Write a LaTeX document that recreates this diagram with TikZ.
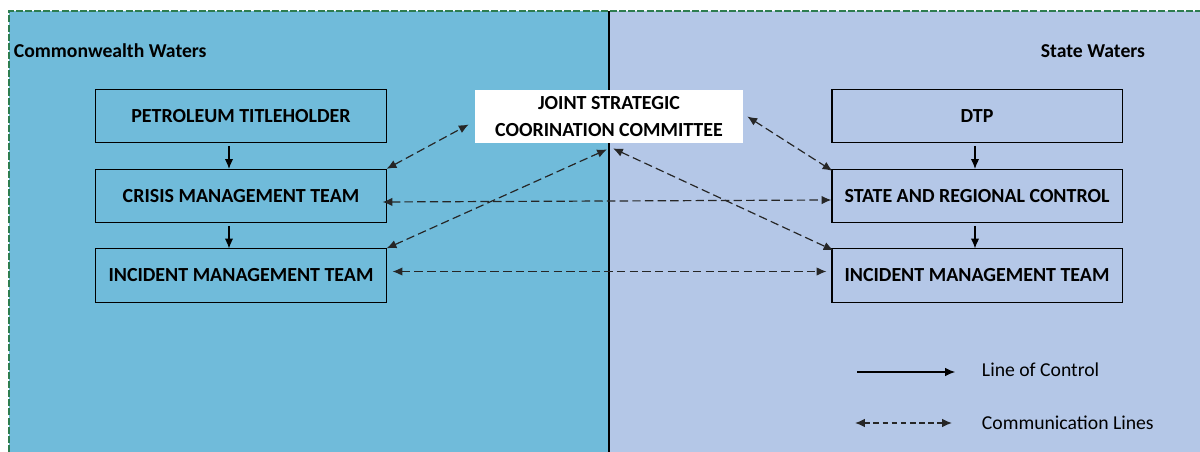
\documentclass[tikz,border=0pt]{standalone}
\usepackage{fontspec}
\setmainfont{Carlito}
\usetikzlibrary{calc,positioning,arrows.meta}
\definecolor{cwblue}{RGB}{112,187,218}
\definecolor{stblue}{RGB}{180,199,231}
\definecolor{bordergreen}{RGB}{46,125,80}
\begin{document}
\begin{tikzpicture}[x=0.025cm, y=-0.025cm, >={Latex[length=7pt,width=6pt]},
  box/.style={draw, line width=0.75pt, minimum width=7.25cm, minimum height=1.33cm, font=\fontsize{14.2}{16}\selectfont\bfseries},
  ctrl/.style={->, line width=0.75pt},
  comm/.style={<->, line width=0.85pt, draw=black!85, dash pattern=on 6pt off 3pt}]
              \useasboundingbox (0,0) rectangle (1200,452);
              \fill[cwblue] (9,11) rectangle (609,452);
              \fill[stblue] (609,11) rectangle (1200,452);
              \draw[bordergreen, line width=0.9pt, dash pattern=on 5pt off 1.5pt] (9,452) -- (9,11) -- (1200,11);
              \draw[line width=0.75pt] (609,11) -- (609,452);

              \node[anchor=west, font=\fontsize{14}{16}\selectfont\bfseries] (cw) at (9,51) {Commonwealth Waters};
              \node[anchor=east, font=\fontsize{14}{16}\selectfont\bfseries] (sw) at (1150,51) {State Waters};

              \node[box] (pt) at (241,116) {PETROLEUM TITLEHOLDER};
              \node[box] (cmt) at (241,196) {CRISIS MANAGEMENT TEAM};
              \node[box] (imtl) at (241,275.5) {INCIDENT MANAGEMENT TEAM};

              \node[box] (dtp) at (977,116) {DTP};
              \node[box] (src) at (977,196) {STATE AND REGIONAL CONTROL};
              \node[box] (imtr) at (977,275.5) {INCIDENT MANAGEMENT TEAM};

              \node[fill=white, minimum width=6.7cm, minimum height=1.33cm, align=center, font=\fontsize{14.2}{19}\selectfont\bfseries] (jscc) at (609,116.5) {JOINT STRATEGIC\\COORINATION COMMITTEE};

              % line of control
              \draw[ctrl, shorten <=2pt] ([xshift=-0.3cm]pt.south) -- ([xshift=-0.3cm]cmt.north);
              \draw[ctrl, shorten <=2pt] ([xshift=-0.3cm]cmt.south) -- ([xshift=-0.3cm]imtl.north);
              \draw[ctrl, shorten <=2pt] ([xshift=-0.05cm]dtp.south) -- ([xshift=-0.05cm]src.north);
              \draw[ctrl, shorten <=2pt] ([xshift=-0.05cm]src.south) -- ([xshift=-0.05cm]imtr.north);

              % communication lines
              \draw[comm] (cmt.north east) -- ([shift={(-6,8)}]jscc.west);
              \draw[comm] ([shift={(-4,6)}]cmt.east) -- ([shift={(0,4)}]src.west);
              \draw[comm] (imtl.north east) -- ([shift={(-2,6)}]jscc.south);
              \draw[comm] ([shift={(4,5)}]jscc.south) -- ([shift={(2,2)}]imtr.north west);
              \draw[comm] ([shift={(4,0)}]jscc.east) -- ([shift={(1,2)}]src.north west);
              \draw[comm] ([shift={(6,-4)}]imtl.east) -- ([shift={(-5,-4)}]imtr.west);

              % legend
              \coordinate (lc a) at (857,372);
              \coordinate (lc b) at (955,372);
              \coordinate (cl a) at (855,423);
              \coordinate (cl b) at (952,423);
              \draw[ctrl] (lc a) -- (lc b);
              \draw[comm, dash pattern=on 4pt off 2.5pt] (cl a) -- (cl b);
              \node[anchor=west, font=\fontsize{14}{16}\selectfont] (lctext) at (977,370) {Line of Control};
              \node[anchor=west, font=\fontsize{14}{16}\selectfont] (cltext) at (977,423) {Communication Lines};
            \end{tikzpicture}
\end{document}
